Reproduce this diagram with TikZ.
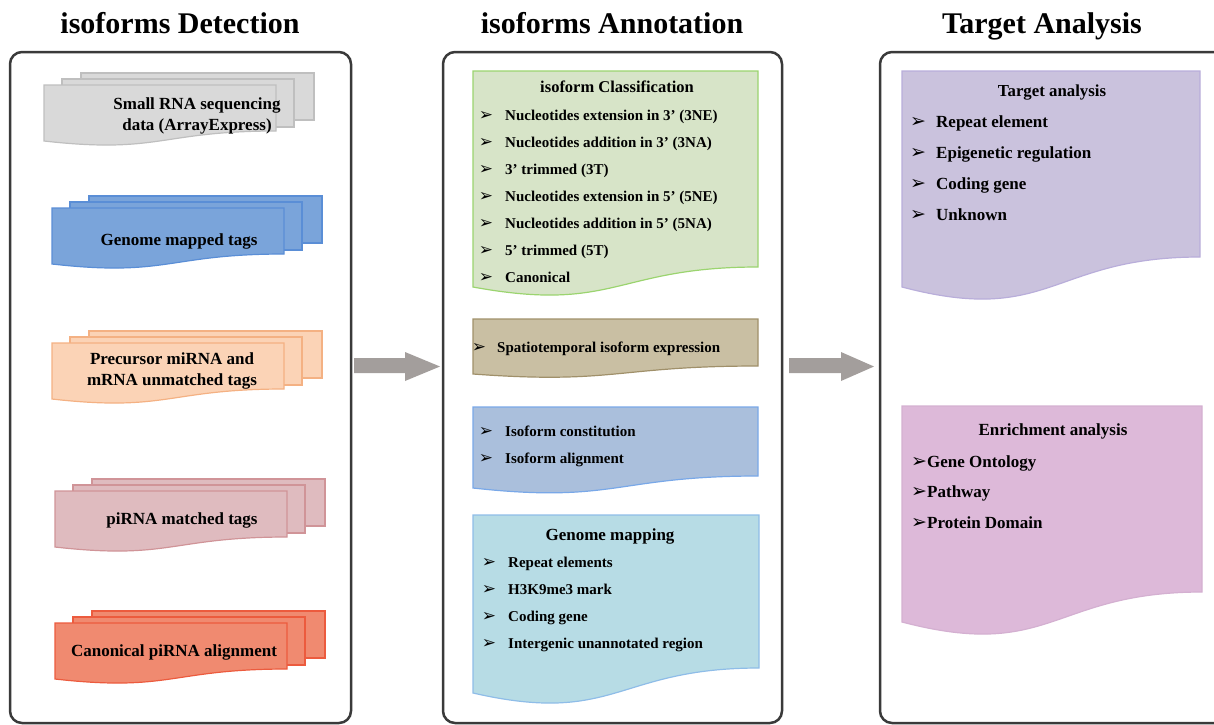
\documentclass[tikz,border=0pt]{standalone}
\usepackage{fontspec}
\setmainfont{Liberation Serif}
\newfontfamily\dejavu{DejaVu Sans}
\definecolor{panelc}{HTML}{3A3A3A}
\definecolor{arrowc}{HTML}{A39E9C}
\definecolor{grayF}{HTML}{D9D9D9}\definecolor{grayD}{HTML}{BFBFBF}
\definecolor{blueF}{HTML}{7AA4DA}\definecolor{blueD}{HTML}{5A8ED6}
\definecolor{peachF}{HTML}{FBD3B6}\definecolor{peachD}{HTML}{F4B183}
\definecolor{roseF}{HTML}{DFBBBF}\definecolor{roseD}{HTML}{D09498}
\definecolor{coralF}{HTML}{F08A70}\definecolor{coralD}{HTML}{EC5B3E}
\definecolor{greenF}{HTML}{D7E4C8}\definecolor{greenD}{HTML}{9BD46F}
\definecolor{tanF}{HTML}{C9BFA3}\definecolor{tanD}{HTML}{A0906A}
\definecolor{steelF}{HTML}{AABFDC}\definecolor{steelD}{HTML}{79A8E8}
\definecolor{cyanF}{HTML}{B7DCE5}\definecolor{cyanD}{HTML}{8FBDE8}
\definecolor{lilacF}{HTML}{CAC2DD}\definecolor{lilacD}{HTML}{B9AEDA}
\definecolor{pinkF}{HTML}{DDB9D9}\definecolor{pinkD}{HTML}{D4B0D1}
\newcommand\docshape[6]{% style,x0,x1,top,yr,yl
  \draw[#1] ({#2},{#4}) -- ({#3},{#4}) -- ({#3},{#5})
    .. controls ({((#2)+(#3))/2},{#5}) and ({((#2)+(#3))/2},{(#5)+2.31*((#6)-(#5))}) .. ({#2},{#6}) -- cycle;}
\newcommand\docstack[3]{% style,x0,T
  \draw[#1] ({#2+37},{#3-12}) rectangle ({#2+270},{#3+35});
  \draw[#1] ({#2+18},{#3-6}) rectangle ({#2+250},{#3+42});
  \docshape{#1}{#2}{#2+232}{#3}{#3+46}{#3+56}}
\newcommand\bltglyph{{\dejavu\fontsize{17}{17}\selectfont ➢}}
\newcommand\bltglyphL{{\dejavu\fontsize{19}{19}\selectfont ➢}}
\begin{document}
\begin{tikzpicture}[x=1pt,y=-1pt,
  panel/.style={draw=panelc,line width=2.5pt,rounded corners=12pt},
  ttl/.style={font=\fontsize{30}{32}\selectfont\bfseries,inner sep=0,anchor=base},
  stxt/.style={font=\fontsize{17}{21}\selectfont\bfseries,align=center,inner sep=0,anchor=base},
  hdr/.style={font=\fontsize{16.5}{19}\selectfont\bfseries,inner sep=0,anchor=base},
  itm/.style={font=\fontsize{15}{18}\selectfont\bfseries,anchor=base west,inner sep=0},
  itmL/.style={font=\fontsize{17}{20}\selectfont\bfseries,anchor=base west,inner sep=0},
  blt/.style={inner sep=0,anchor=base},
  doc/.style={line width=1.2pt}]
\useasboundingbox (0,0) rectangle (1214,724);
\clip (0,0) rectangle (1214,724);

% titles
\node[ttl] (T1) at (180,33) {isoforms Detection};
\node[ttl] (T2) at (612,33) {isoforms Annotation};
\node[ttl] (T3) at (1042,33) {Target Analysis};

% panels
\draw[panel] (10,52) rectangle (351,723);
\draw[panel] (443,52) rectangle (782,723);
\draw[panel] (880,52) rectangle (1240,723);

% arrows
\fill[arrowc] (354,358) -- (405,358) -- (405,352) -- (440,366.5) -- (405,381) -- (405,373) -- (354,373) -- cycle;
\fill[arrowc] (789,358) -- (841,358) -- (841,352) -- (874,366.5) -- (841,381) -- (841,373) -- (789,373) -- cycle;

% left stacks
\docstack{doc,draw=grayD,fill=grayF}{44}{85}
\docstack{doc,draw=blueD,fill=blueF}{52}{208}
\docstack{doc,draw=peachD,fill=peachF}{52}{343}
\docstack{doc,draw=roseD,fill=roseF}{55}{491}
\docstack{doc,draw=coralD,fill=coralF}{55}{623}
\node[stxt] (t1) at (197,130) {Small RNA sequencing\\data (ArrayExpress)};
\node[stxt] (t2) at (179,245) {Genome mapped tags};
\node[stxt] (t3) at (172,385) {Precursor miRNA and\\mRNA unmatched tags};
\node[stxt] (t4) at (182,524) {piRNA matched tags};
\node[stxt] (t5) at (174,656) {Canonical piRNA alignment};

% middle documents
\docshape{doc,draw=greenD,fill=greenF}{473}{758}{71}{267}{287}
\docshape{doc,draw=tanD,fill=tanF}{473}{758}{319}{366}{374}
\docshape{doc,draw=steelD,fill=steelF}{473}{758}{407}{476}{488}
\docshape{doc,draw=cyanD,fill=cyanF}{473}{759}{515}{668}{693}

\node[hdr] (h1) at (617,92) {isoform Classification};
\foreach \t [count=\i] in {Nucleotides extension in 3’ (3NE),Nucleotides addition in 3’ (3NA),3’ trimmed (3T),Nucleotides extension in 5’ (5NE),Nucleotides addition in 5’ (5NA),5’ trimmed (5T),Canonical}{
  \node[blt] (cb\i) at (486,{93+27*\i}) {\bltglyph};
  \node[itm] (c\i) at (505,{93+27*\i}) {\t};
}
\node[blt] (sb1) at (479,352) {\bltglyph};
\node[itm] (s1) at (497,352) {Spatiotemporal isoform expression};

\node[blt] (ib1) at (486,436) {\bltglyph};
\node[itm] (i1) at (505,436) {Isoform constitution};
\node[blt] (ib2) at (486,463) {\bltglyph};
\node[itm] (i2) at (505,463) {Isoform alignment};

\node[hdr,font=\fontsize{17}{19}\selectfont\bfseries] (h2) at (610,540) {Genome mapping};
\foreach \t [count=\i] in {Repeat elements,H3K9me3 mark,Coding gene,Intergenic unannotated region}{
  \node[blt] (gb\i) at (489,{540+27*\i}) {\bltglyph};
  \node[itm] (g\i) at (508,{540+27*\i}) {\t};
}

% right documents
\docshape{doc,draw=lilacD,fill=lilacF}{902}{1200}{71}{257}{287}
\docshape{doc,draw=pinkD,fill=pinkF}{902}{1202}{406}{592}{622}

\node[hdr,font=\fontsize{16.8}{19}\selectfont\bfseries] (h3) at (1052,96) {Target analysis};
\foreach \t [count=\i] in {Repeat element,Epigenetic regulation,Coding gene,Unknown}{
  \node[blt] (tb\i) at (918,{96+31*\i}) {\bltglyphL};
  \node[itmL] (ta\i) at (936,{96+31*\i}) {\t};
}
\node[hdr,font=\fontsize{17}{19}\selectfont\bfseries] (h4) at (1053,435) {Enrichment analysis};
\foreach \t [count=\i] in {Gene Ontology,Pathway,Protein Domain}{
  \node[blt] (eb\i) at (919,{436.5+30.5*\i}) {\bltglyphL};
  \node[itmL] (e\i) at (927,{436.5+30.5*\i}) {\t};
}
\end{tikzpicture}
\end{document}
